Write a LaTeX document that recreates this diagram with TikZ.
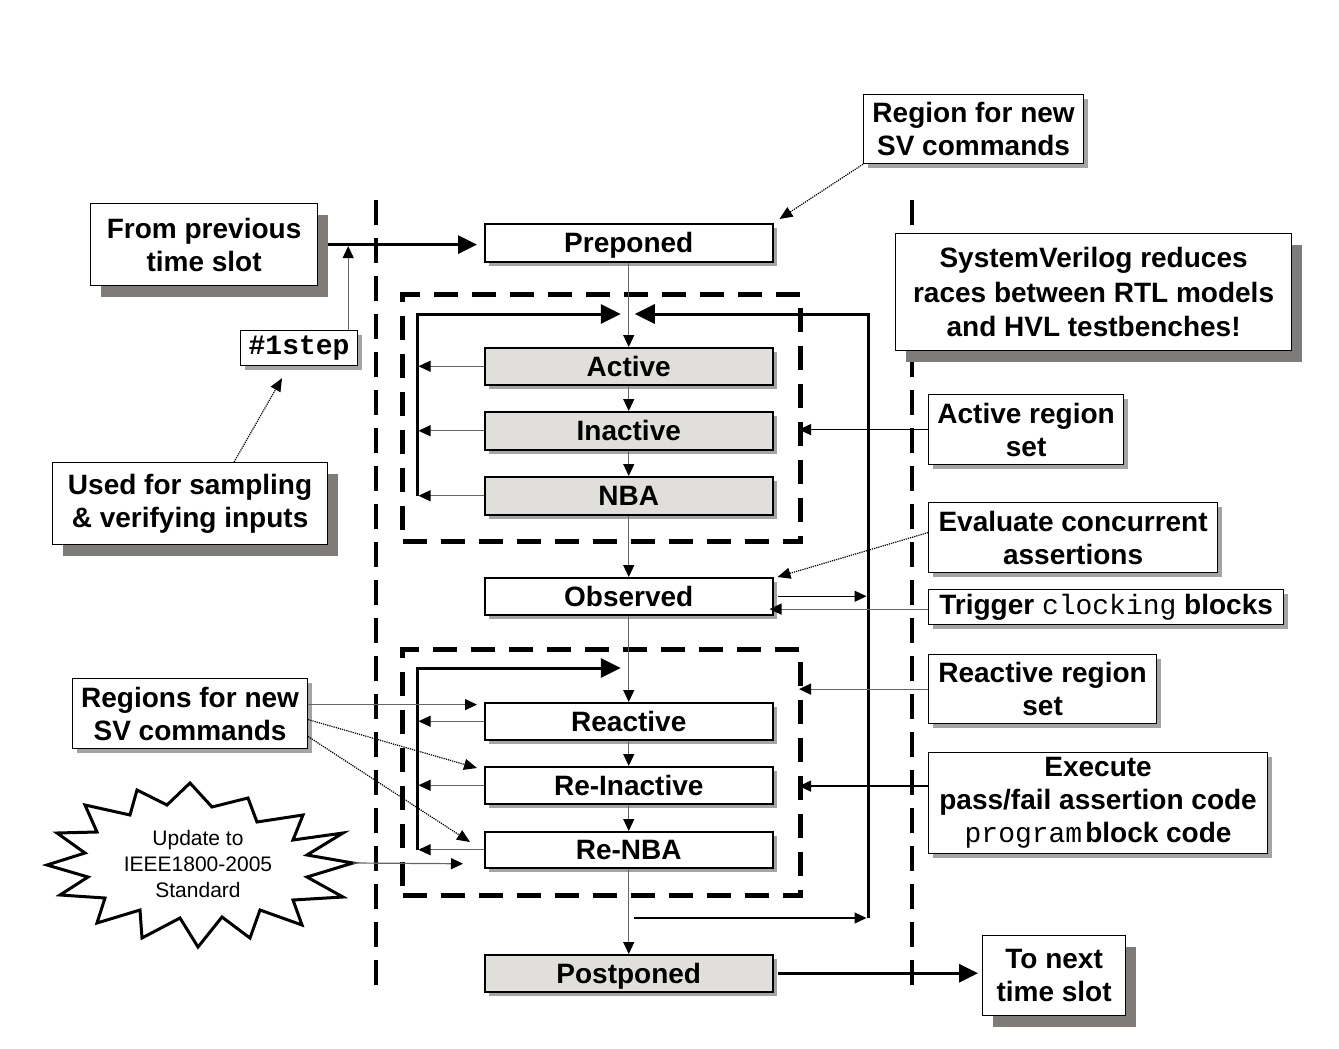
\documentclass[tikz,border=0pt]{standalone}
\usepackage{fontspec}
\setmainfont{Liberation Sans}
\setmonofont{Liberation Mono}
\usetikzlibrary{arrows.meta,shadows}
\definecolor{boxgray}{HTML}{E0DFDB}
\definecolor{darkshadow}{HTML}{7F7B78}
\definecolor{lightshadow}{HTML}{A4A4A4}
\begin{document}
\begin{tikzpicture}[x=1pt,y=-1pt,
  txt/.style={font=\fontsize{28}{33}\selectfont\bfseries, align=center, inner sep=0pt, anchor=north west},
  lshadow/.style={general shadow={shadow xshift=4pt, shadow yshift=-4pt, fill=lightshadow}},
  dshadow/.style={general shadow={shadow xshift=10pt, shadow yshift=-11pt, fill=darkshadow}},
  regbox/.style={txt, draw, line width=1.5pt, fill=white, minimum width=288pt, text height=20pt, text depth=0pt, lshadow},
  graybox/.style={regbox, fill=boxgray},
  callout/.style={txt, draw, line width=1.2pt, fill=white, lshadow},
  bigcallout/.style={txt, draw, line width=1.2pt, fill=white, dshadow},
  slotline/.style={line width=4pt, dash pattern=on 25pt off 13pt},
  groupbox/.style={draw, line width=5pt, dash pattern=on 24pt off 14pt, anchor=north west, inner sep=0pt},
  loopline/.style={line width=3pt, -{Triangle[length=20pt,width=19pt]}},
  bigarrow/.style={line width=3pt, -{Triangle[length=19pt,width=18pt]}},
  thinarrow/.style={line width=1.2pt, draw=black!60, -{Triangle[length=12pt,width=11pt,color=black]}},
  blackarrow/.style={line width=1.3pt, -{Triangle[length=12pt,width=11pt]}},
  dotarrow/.style={line width=1.2pt, densely dotted, -{Triangle[length=13pt,width=11pt]}},
]
\fill[white] (0,0) rectangle (1339,1049);
\useasboundingbox (0,0) rectangle (1339,1049);

% time slot boundaries
\draw[slotline] (376,200) -- (376,995);
\draw[slotline] (912,200) -- (912,995);

% region groups
\node[groupbox, minimum width=398pt, minimum height=247pt] (aset) at (400,292) {};
\node[groupbox, minimum width=398pt, minimum height=246pt] (rset) at (400,647) {};

% scheduling regions
\node[regbox, minimum height=38pt] (prep) at (484,223) {Preponed};
\node[graybox, minimum height=37pt] (act) at (484,347) {Active};
\node[graybox, minimum height=38pt] (inact) at (484,411) {Inactive};
\node[graybox, minimum height=38pt] (nba) at (484,476) {NBA};
\node[regbox, minimum height=37pt] (obs) at (484,577) {Observed};
\node[regbox, minimum height=37pt] (react) at (484,702) {Reactive};
\node[regbox, minimum height=37pt] (reinact) at (484,766) {Re-Inactive};
\node[regbox, minimum height=36pt] (renba) at (484,831) {Re-NBA};
\node[graybox, minimum height=37pt] (post) at (484,954) {Postponed};

% callouts
\node[callout, minimum width=220pt, minimum height=69pt] (rfn) at (863,94) {Region for new\\SV commands};
\node[bigcallout, minimum width=227pt, minimum height=82pt] (fps) at (90,203) {From previous\\time slot};
\node[callout, minimum width=117pt, minimum height=35pt] (step) at (240,330) {\ttfamily\bfseries\#1step};
\node[bigcallout, minimum width=275pt, minimum height=82pt] (ufs) at (52,462) {Used for sampling\\\& verifying inputs};
\node[bigcallout, minimum width=396pt, minimum height=117pt, font=\fontsize{28}{34.5}\selectfont\bfseries] (svr) at (895,233) {SystemVerilog reduces\\races between RTL models\\and HVL testbenches!};
\node[callout, minimum width=195pt, minimum height=70pt] (arset) at (928,394) {Active region\\set};
\node[callout, minimum width=289pt, minimum height=70pt] (eval) at (928,502) {Evaluate concurrent\\assertions};
\node[callout, minimum width=355pt, minimum height=35pt] (trig) at (928,589) {Trigger {\ttfamily\mdseries clocking} blocks};
\node[callout, minimum width=228pt, minimum height=69pt] (rrset) at (928,654) {Reactive region\\set};
\node[callout, minimum width=339pt, minimum height=101pt] (exec) at (928,752) {Execute\\pass/fail assertion code\\{\ttfamily\mdseries program}\hspace{3pt}block code};
\node[callout, minimum width=235pt, minimum height=70pt] (rfn2) at (72,678) {Regions for new\\SV commands};
\node[bigcallout, minimum width=143pt, minimum height=80pt] (tnext) at (982,935) {To next\\time slot};

% starburst
\draw[line width=3pt, line join=miter, fill=white]
  (190,783) -- (212,807) -- (248,798) -- (257,822) -- (303,815) -- (293,840) -- (343,833) -- (307,855)
  -- (353,863) -- (307,877) -- (343,897) -- (293,900) -- (302,925) -- (260,910) -- (250,938) -- (222,917)
  -- (198,947) -- (180,918) -- (142,938) -- (140,910) -- (97,923) -- (105,898) -- (60,895) -- (88,877)
  -- (47,865) -- (85,853) -- (57,833) -- (97,832) -- (85,805) -- (130,815) -- (137,790) -- (167,805) -- cycle;
\node[font=\fontsize{21}{26}\selectfont, align=center] (burst) at (198,864) {Update to\\IEEE1800-2005\\Standard};
\coordinate (bursttip) at (353,863);

% loop coordinates
\coordinate (L1t) at (417,314);
\coordinate (L2t) at (417,668);
\coordinate (rtop) at (868,314);
\coordinate (rbot) at (868,918);

% main flow
\foreach \a/\b in {prep/act, act/inact, inact/nba, nba/obs, obs/react, react/reinact, reinact/renba, renba/post}
  \draw[thinarrow] (\a.south) -- (\b.north);

% feedback arrows into loops
\foreach \n in {act, inact, nba}
  \draw[thinarrow, shorten >=1.5pt] (\n.west) -- (\n.west -| L1t);
\foreach \n in {react, reinact, renba}
  \draw[thinarrow, shorten >=1.5pt] (\n.west) -- (\n.west -| L2t);

% loops
\draw[loopline, shorten >=8pt] (nba.west -| L1t) -- (L1t) -- (act.north |- L1t);
\draw[loopline, shorten >=6pt] (rbot) -- (rtop) -- (act.north |- rtop);
\draw[loopline, shorten >=8pt] (renba.west -| L2t) -- (L2t) -- (react.north |- L2t);
\draw[blackarrow, shorten <=5pt, shorten >=1.5pt] (renba.south |- rbot) -- (rbot);
\draw[blackarrow, shorten <=4pt, shorten >=1.5pt] (obs.east) -- (obs.east -| rtop);

% time slot arrows
\draw[bigarrow, shorten <=10pt, shorten >=7pt] (fps.east) -- (fps.east -| prep.west);
\coordinate (s1) at ([xshift=-10pt]step.north east);
\draw[thinarrow, shorten >=1.5pt] (s1) -- (s1 |- fps.east);
\draw[bigarrow, shorten <=4pt, shorten >=4pt] (post.east) -- (post.east -| tnext.west);

% callout connectors
\draw[dotarrow] (rfn.south west) -- ([xshift=6pt,yshift=4pt]prep.north east);
\draw[dotarrow] ([xshift=44pt]ufs.north) -- ([xshift=42pt,yshift=-12pt]step.south west);
\draw[dotarrow] ([yshift=5pt]eval.west) -- ([xshift=4pt]obs.north east);
\draw[thinarrow, shorten >=-4pt] ([yshift=-2pt]trig.west) -- ([yshift=-2pt]trig.west -| obs.east);
\draw[blackarrow, shorten >=-4pt] (arset.west) -- (arset.west -| aset.east);
\draw[thinarrow, shorten >=-4pt] (rrset.west) -- (rrset.west -| rset.east);
\coordinate (ex1) at ([yshift=17pt]exec.west);
\draw[blackarrow, shorten >=-4pt] (ex1) -- (ex1 -| rset.east);

\coordinate (r1s) at ([yshift=9pt]rfn2.east);
\draw[thinarrow, shorten >=7pt] (r1s) -- (r1s -| react.west);
\draw[dotarrow] ([yshift=-6pt]rfn2.east) -- ([xshift=-7pt,yshift=-2pt]reinact.north west);
\draw[dotarrow] ([yshift=-23pt]rfn2.east) -- ([xshift=-14pt,yshift=-11pt]renba.north west);
\draw[thinarrow] (bursttip) -- ([xshift=-21pt,yshift=-14pt]renba.west);
\end{tikzpicture}
\end{document}
